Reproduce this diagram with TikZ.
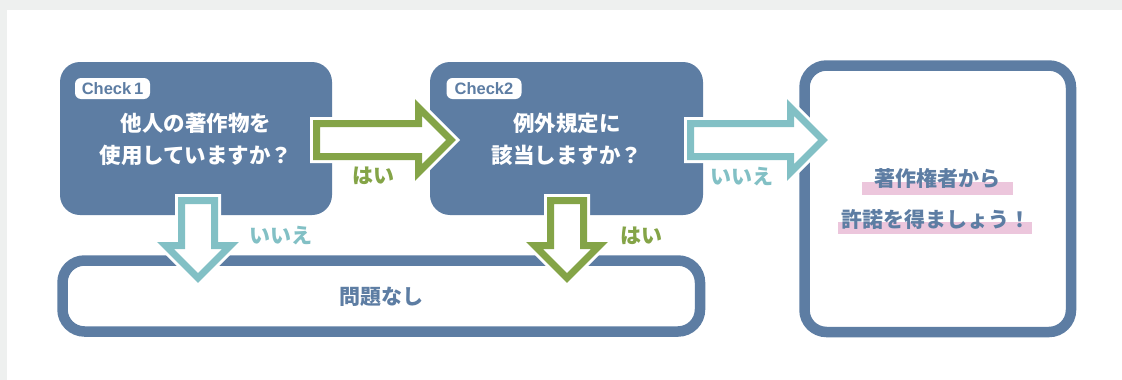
\documentclass[tikz,border=0pt]{standalone}
\usepackage{fontspec}
\newfontfamily\jp{Noto Sans CJK JP}
\newfontfamily\lat{Liberation Sans}
\definecolor{boxblue}{HTML}{5D7DA3}
\definecolor{agreen}{HTML}{84A447}
\definecolor{ateal}{HTML}{82C0C5}
\definecolor{hlpink}{HTML}{ECC6DC}
\definecolor{bggray}{HTML}{EEF0EF}
\newcommand\blockRpath[3]{({#1+3.5},{#3-16.5}) -- ({#2+3.5},{#3-16.5}) -- ({#2+3.5},{#3-32.5}) -- ({#2+36},#3) -- ({#2+3.5},{#3+32.5}) -- ({#2+3.5},{#3+16.5}) -- ({#1+3.5},{#3+16.5}) -- cycle}
\newcommand\blockDpath[3]{({#1-16.5},{#2+3.5}) -- ({#1-16.5},{#3+3.5}) -- ({#1-32.5},{#3+3.5}) -- (#1,{#3+36}) -- ({#1+32.5},{#3+3.5}) -- ({#1+16.5},{#3+3.5}) -- ({#1+16.5},{#2+3.5}) -- cycle}
\newcommand\blockR[4]{%
  \draw[arrowborder] \blockRpath{#1}{#2}{#3};
  \draw[arrowline, draw=#4] \blockRpath{#1}{#2}{#3};}
\newcommand\blockD[4]{%
  \draw[arrowborder] \blockDpath{#1}{#2}{#3};
  \draw[arrowline, draw=#4] \blockDpath{#1}{#2}{#3};}
\begin{document}
\begin{tikzpicture}[x=1pt,y=-1pt,
  arrowborder/.style={draw=white, fill=white, line width=13pt, line join=miter, miter limit=10},
  arrowline/.style={line width=7pt, line join=miter, miter limit=10},
  qbox/.style={fill=boxblue, rounded corners=20pt},
  obox/.style={draw=boxblue, line width=10.5pt, rounded corners=22pt, fill=white},
  qtext/.style={font=\jp\bfseries\fontsize{21.5}{32}\selectfont, text=white, align=center, inner sep=0pt},
  btext/.style={font=\jp\bfseries\fontsize{21}{32}\selectfont, text=boxblue, inner sep=0pt},
  ans/.style={font=\jp\bfseries\fontsize{21}{24}\selectfont, inner sep=0pt},
  chk/.style={fill=white, rounded corners=6pt, minimum width=75pt, minimum height=21pt, inner sep=0pt, text=boxblue, font=\lat\bfseries\fontsize{16.5}{18}\selectfont}]
\useasboundingbox (0,0) rectangle (1122,380);
\fill[bggray] (0,0) rectangle (1122,380);
\fill[white] (7,10) rectangle (1122,380);
% outline boxes
\draw[obox] (62.5,260.5) rectangle (700,331.5);
\draw[obox] (804.5,65.5) rectangle (1071,332);
% question boxes
\fill[qbox] (60,62) rectangle (332,215);
\fill[qbox] (430,62) rectangle (703,215);
\node[chk] (c1) at (112.5,88.5) {Check\,1};
\node[chk] (c2) at (484,88.5) {Check2};
\node[qtext] (q1) at (196,139) {他人の著作物を\\使用していますか？};
\node[qtext] (q2) at (567,139) {例外規定に\\該当しますか？};
% arrows
\blockR{313}{415}{140}{agreen}
\blockR{687}{787}{140}{ateal}
\blockD{198}{197}{242}{ateal}
\blockD{567}{197}{242}{agreen}
% labels
\node[ans, text=agreen] (y1) at (373,176) {はい};
\node[ans, text=ateal] (n2) at (742,177) {いいえ};
\node[ans, text=ateal] (n1) at (281,236) {いいえ};
\node[ans, text=agreen] (y2) at (641,236) {はい};
% results
\node[btext] (ok) at (381,297) {問題なし};
\fill[hlpink] (862,182) rectangle (1013,195);
\fill[hlpink] (838,222) rectangle (1032,234);
\node[btext] (r1) at (937,178) {著作権者から};
\node[btext] (r2) at (936,219) {許諾を得ましょう！};
\end{tikzpicture}
\end{document}
